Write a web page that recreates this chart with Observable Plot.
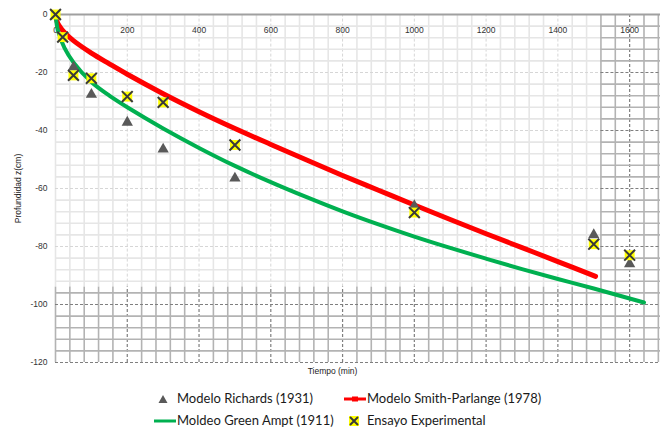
<!DOCTYPE html>
<html><head><meta charset="utf-8">
<script src="https://cdn.jsdelivr.net/npm/d3@7"></script>
<script src="https://cdn.jsdelivr.net/npm/@observablehq/plot@0.6"></script>
<style>
body{margin:0;background:#fff;width:663px;height:431px;position:relative;overflow:hidden}
#chart{position:absolute;left:0;top:0}
.leg{position:absolute;font-family:Lato,sans-serif;font-size:13px;color:#1a1a1a;line-height:14px;white-space:nowrap}
.ico{position:absolute}
</style></head><body>
<div id="chart"></div>
<div id="legend"></div>
<script>
// ---- data ----
const seriesNames = ["Modelo Richards (1931)", "Modelo Smith-Parlange (1978)", "Moldeo Green Ampt (1911)", "Ensayo Experimental"];

const richardsT = [50, 100, 200, 300, 500, 1000, 1500, 1600];
const richardsZ = [-18.2, -27.6, -37.2, -46.5, -56.5, -66, -76, -86];

const smithT = [0, 5, 10, 25, 50, 100, 150, 200, 300, 400, 500, 600, 700, 800, 900, 1000, 1100, 1200, 1300, 1400, 1505];
const smithZ = [0, -2.6, -3.8, -6.2, -9.0, -13.3, -17.0, -20.6, -27.3, -33.5, -39.3, -44.8, -50.2, -55.5, -60.6, -65.7, -70.7, -75.6, -80.4, -85.2, -90.3];

const greenT = [0, 5, 10, 25, 50, 100, 150, 200, 300, 400, 500, 600, 700, 800, 900, 1000, 1100, 1200, 1300, 1400, 1500, 1640];
const greenZ = [0, -4.5, -6.8, -11.5, -16.5, -23.3, -28.0, -32.0, -39.3, -46.0, -52.2, -57.8, -63.0, -67.9, -72.4, -76.6, -80.5, -84.2, -87.8, -91.2, -94.5, -99.3];

const ensayoT = [0, 20, 50, 100, 200, 300, 500, 1000, 1500, 1600];
const ensayoZ = [0, -7.8, -21, -22, -28.3, -30.3, -45, -68.3, -79.2, -83];

const xTickLabels = [0, 200, 400, 600, 800, 1000, 1200, 1400, 1600];
const yTickLabels = [0, -20, -40, -60, -80, -100, -120];
const xLabel = "Tiempo (min)";
const yLabel = "Profundidad z(cm)";

// ---- tables ----
const zip = (T, Z) => T.map((t, i) => ({t, z: Z[i]}));
const richards = zip(richardsT, richardsZ);
const smith = zip(smithT, smithZ);
const green = zip(greenT, greenZ);
const ensayo = zip(ensayoT, ensayoZ);

const XMAX = 1686, XB = 1520, YB = -94;
const xGrid = d3.range(0, XMAX, 40);
const yGrid = d3.range(-4, -121, -4);
const majX = x => x % 200 === 0;
const majY = y => y % 20 === 0;

const lightV = xGrid.filter(x => x < XB);
const lightH = yGrid.filter(y => y > YB);
const darkV = xGrid.map(x => ({x, y2: x >= XB ? 0 : YB}));
const darkH = yGrid.map(y => ({y, x1: y < YB ? 0 : XB}));

const LIGHT = "#e6e6e6", LIGHTD = "#d6d6d6", DARK = "#b3b3b3", DARKD = "#7f7f7f";
const font = "Liberation Sans, Arial, sans-serif";

const chart = Plot.plot({
  width: 663, height: 380,
  marginLeft: 55, marginRight: 3, marginTop: 14, marginBottom: 18,
  x: {domain: [0, XMAX], axis: null},
  y: {domain: [-120, 0], axis: null},
  style: {fontFamily: font, background: "white"},
  marks: [
    // light grid
    Plot.ruleX(lightV.filter(x => !majX(x) || x === 0), {x: d => d, y1: YB, y2: 0, stroke: LIGHT, strokeWidth: 1.6}),
    Plot.ruleX(lightV.filter(x => majX(x) && x > 0), {x: d => d, y1: YB, y2: 0, stroke: LIGHTD, strokeWidth: 1, strokeDasharray: "3,2"}),
    Plot.ruleY(lightH.filter(y => !majY(y)), {y: d => d, x1: 0, x2: XB, stroke: LIGHT, strokeWidth: 1.6}),
    Plot.ruleY(lightH.filter(y => majY(y)), {y: d => d, x1: 0, x2: XB, stroke: LIGHTD, strokeWidth: 1, strokeDasharray: "3,2"}),
    // dark grid
    Plot.ruleX(darkV.filter(d => !majX(d.x) || d.x === 0), {x: "x", y1: -120, y2: "y2", stroke: DARK, strokeWidth: 1.6}),
    Plot.ruleX(darkV.filter(d => majX(d.x) && d.x > 0), {x: "x", y1: -120, y2: "y2", stroke: DARKD, strokeWidth: 1.2, strokeDasharray: "3,2"}),
    Plot.ruleY(darkH.filter(d => !majY(d.y)), {y: "y", x1: "x1", x2: XMAX, stroke: DARK, strokeWidth: 1.6}),
    Plot.ruleY(darkH.filter(d => majY(d.y)), {y: "y", x1: "x1", x2: XMAX, stroke: DARKD, strokeWidth: 1.2, strokeDasharray: "3,2"}),
    // top axis line
    Plot.ruleY([0], {x1: 0, x2: XMAX, stroke: "#a0a0a0", strokeWidth: 2}),
    // tick labels
    Plot.text(xTickLabels, {x: d => d, y: 0, dy: 16, text: d => String(d), fontSize: 8.5, fill: "#333"}),
    Plot.text(yTickLabels, {x: 0, y: d => d, dx: -8, text: d => String(d), textAnchor: "end", fontSize: 8.5, fill: "#333"}),
    Plot.text([yLabel], {x: 0, y: -60, dx: -37, rotate: -90, text: d => d, fontSize: 8.5, fill: "#222"}),
    Plot.text([xLabel], {x: 772, y: -120, dy: 9, text: d => d, fontSize: 8.5, fill: "#222"}),
    // series
    Plot.line(smith, {x: "t", y: "z", stroke: "#ff0000", strokeWidth: 5, curve: "catmull-rom"}),
    Plot.line(green, {x: "t", y: "z", stroke: "#00b050", strokeWidth: 4, curve: "catmull-rom"}),
    Plot.dot(richards, {x: "t", y: "z", symbol: "triangle", r: 4.2, fill: "#595959", stroke: "none"}),
    Plot.dot(ensayo, {x: "t", y: "z", symbol: "square", r: 5.6, fill: "#ffff00", stroke: "none"}),
    Plot.dot(ensayo, {x: "t", y: "z", symbol: "times", r: 5, stroke: "#3a3a3a", strokeWidth: 2})
  ]
});
document.getElementById("chart").appendChild(chart);

// ---- legend ----
const leg = document.getElementById("legend");
const items = [
  {name: seriesNames[0], icon: `<svg width="20" height="14"><path d="M10 3 L14.5 11 L5.5 11 Z" fill="#595959"/></svg>`, ix: 153, tx: 177, y: 399},
  {name: seriesNames[1], icon: `<svg width="22" height="14"><line x1="0" y1="7" x2="22" y2="7" stroke="#ff0000" stroke-width="3"/><rect x="8" y="4.5" width="6" height="5" fill="#ff0000"/></svg>`, ix: 344, tx: 367, y: 399},
  {name: seriesNames[2], icon: `<svg width="22" height="14"><line x1="0" y1="7" x2="22" y2="7" stroke="#00b050" stroke-width="3"/></svg>`, ix: 154, tx: 177, y: 421},
  {name: seriesNames[3], icon: `<svg width="14" height="14"><rect x="2" y="2" width="10" height="10" fill="#ffff00"/><path d="M3 3 L11 11 M11 3 L3 11" stroke="#3a3a3a" stroke-width="2"/></svg>`, ix: 347, tx: 367, y: 421}
];
for (const it of items) {
  const ic = document.createElement("div");
  ic.className = "ico";
  ic.style.left = it.ix + "px";
  ic.style.top = (it.y - 7) + "px";
  ic.innerHTML = it.icon;
  leg.appendChild(ic);
  const t = document.createElement("div");
  t.className = "leg";
  t.style.left = it.tx + "px";
  t.style.top = (it.y - 8) + "px";
  t.textContent = it.name;
  leg.appendChild(t);
}
</script>
</body></html>
